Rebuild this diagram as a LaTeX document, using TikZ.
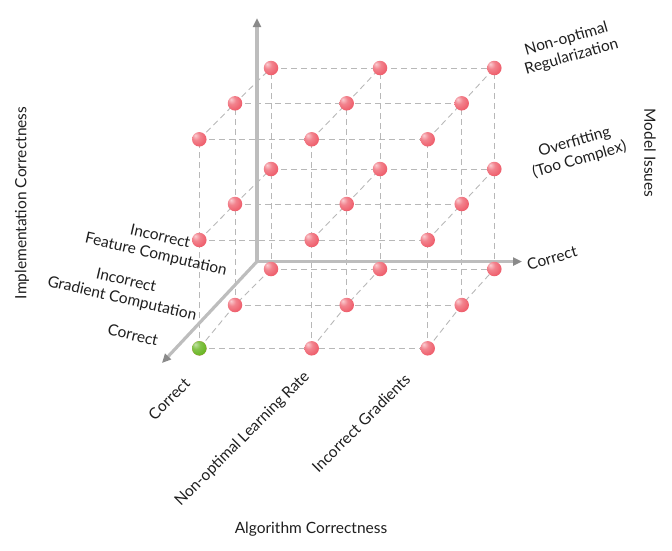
\documentclass[tikz,border=0pt]{standalone}
\usepackage{fontspec}
\setmainfont{Lato}
\usetikzlibrary{arrows.meta,shadings}
\definecolor{ballred}{HTML}{EE5A68}
\definecolor{ballgreen}{HTML}{66B41E}
\definecolor{axisgray}{HTML}{BDBDBD}
\definecolor{tipgray}{HTML}{8A8A8A}
\definecolor{dashgray}{HTML}{B8B8B8}
\pgfdeclareradialshading{redsphere}{\pgfpoint{-14bp}{14bp}}{color(0bp)=(ballred!30!white); color(14bp)=(ballred!75!white); color(34bp)=(ballred); color(52bp)=(ballred!88!black); color(70bp)=(ballred!88!black)}
\pgfdeclareradialshading{greensphere}{\pgfpoint{-14bp}{14bp}}{color(0bp)=(ballgreen!40!white); color(14bp)=(ballgreen!80!white); color(34bp)=(ballgreen); color(52bp)=(ballgreen!85!black); color(70bp)=(ballgreen!85!black)}
\begin{document}
\begin{tikzpicture}[x=1pt,y=-1pt,
  gridline/.style={draw=dashgray,line width=0.9pt,dash pattern=on 6pt off 4pt},
  axisline/.style={draw=axisgray,line width=3.2pt,-{Triangle[length=9pt,width=8pt,color=tipgray]}},
  redball/.style={circle,inner sep=0pt,minimum size=14.5pt,shading=redsphere},
  greenball/.style={circle,inner sep=0pt,minimum size=14.5pt,shading=greensphere},
  lbl/.style={font=\fontsize{15.5}{18.5}\selectfont,text=black!88,align=center,inner sep=0pt},
]
\useasboundingbox (0,0) rectangle (672,550);
% grid coordinates c-(x index)-(depth)-(level)
\foreach \d/\xa/\xb/\xc/\ya/\yb/\yc in {0/199.3/311.7/427.7/348.3/240/139.3,1/235/346.7/461.7/305/204/103.3,2/271/380/494.3/269/169/68}{
  \coordinate (c-0-\d-0) at (\xa,\ya);
  \coordinate (c-1-\d-0) at (\xb,\ya);
  \coordinate (c-2-\d-0) at (\xc,\ya);
  \coordinate (c-0-\d-1) at (\xa,\yb);
  \coordinate (c-1-\d-1) at (\xb,\yb);
  \coordinate (c-2-\d-1) at (\xc,\yb);
  \coordinate (c-0-\d-2) at (\xa,\yc);
  \coordinate (c-1-\d-2) at (\xb,\yc);
  \coordinate (c-2-\d-2) at (\xc,\yc);
}
% dashed grid
\foreach \d in {0,1,2}{\foreach \k in {0,1,2}{
  \draw[gridline] (c-0-\d-\k) -- (c-1-\d-\k) -- (c-2-\d-\k);}}
\foreach \i in {0,1,2}{\foreach \k in {0,1,2}{
  \draw[gridline] (c-\i-0-\k) -- (c-\i-1-\k) -- (c-\i-2-\k);}}
\foreach \i in {0,1,2}{\foreach \d in {0,1,2}{
  \draw[gridline] (c-\i-\d-0) -- (c-\i-\d-1) -- (c-\i-\d-2);}}
% axes
\coordinate (O) at (257,261.5);
\coordinate (up) at (257,18);
\coordinate (right) at (522,261.5);
\coordinate (front) at (162,363);
\draw[axisline] (O) -- (up);
\draw[axisline] (O) -- (right);
\draw[axisline] (O) -- (front);
% balls
\foreach \i in {0,1,2}{\foreach \d in {0,1,2}{\foreach \k in {0,1,2}{
  \node[redball] (b-\i-\d-\k) at (c-\i-\d-\k) {};}}}
\node[greenball] (b-0-0-0) at (c-0-0-0) {};
% labels: algorithm correctness
\node[lbl,rotate=45] (a0) at (169,399) {Correct};
\node[lbl,rotate=45] (a1) at (242.5,439) {Non-optimal Learning Rate};
\node[lbl,rotate=45] (a2) at (361,423) {Incorrect Gradients};
\node[lbl] (at) at (311,529) {Algorithm Correctness};
% implementation correctness
\node[lbl,rotate=-13] (i0) at (133,335) {Correct};
\node[lbl,rotate=-13] (i1) at (124,290) {Incorrect\\Gradient Computation};
\node[lbl,rotate=-13] (i2) at (158,246) {Incorrect\\Feature Computation};
\node[lbl,rotate=90] (it) at (22,203) {Implementation Correctness};
% model issues
\node[lbl,rotate=16] (m0) at (552,258) {Correct};
\node[lbl,rotate=16] (m1) at (577,151) {Overfitting\\(Too Complex)};
\node[lbl,rotate=16] (m2) at (569,48) {Non-optimal\\Regularization};
\node[lbl,rotate=-90] (mt) at (650,153) {Model Issues};
\end{tikzpicture}
\end{document}
